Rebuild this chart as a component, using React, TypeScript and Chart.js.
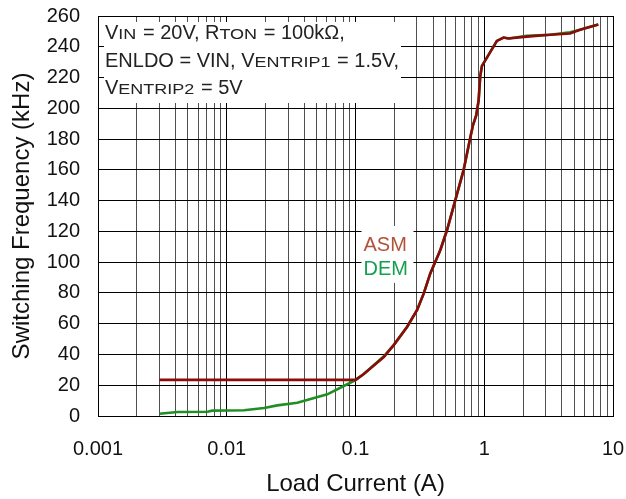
import React, { useEffect, useRef } from 'react';
import { Chart, registerables } from 'chart.js';

Chart.register(...registerables);

const FONT = '"Liberation Sans", Arial, Helvetica, sans-serif';

// X axis decades (log scale) and labels
const xDecades = [0.001, 0.01, 0.1, 1, 10];
const xDecadeLabels = ['0.001', '0.01', '0.1', '1', '10'];
const minorMultipliers = [1, 2, 3, 4, 5, 6, 7, 8, 9];

// Y axis
const yMin = 0;
const yMax = 260;
const yStep = 20;

// DEM series
const demCurrent = [
  0.003, 0.00415, 0.0071, 0.0077, 0.0136, 0.0195, 0.0247, 0.0353, 0.0448, 0.0604, 0.0811,
  0.1, 0.116, 0.166, 0.198, 0.252, 0.301, 0.339, 0.381, 0.456, 0.514, 0.596, 0.691, 0.775,
  0.817, 0.867, 0.904, 0.931, 0.96, 1.254, 1.413, 1.545, 2.144, 3.25, 4.64, 5.54, 7.69,
];
const demFreq = [
  1.5, 2.6, 2.8, 3.5, 3.7, 5.2, 6.9, 8.6, 11.1, 14.1, 19.5,
  23.3, 27.3, 38.8, 46.1, 58, 68.9, 79.7, 92.7, 107.9, 120.9, 140.3, 159.8, 180,
  189, 195.6, 205, 221, 227.6, 243.8, 246, 245.4, 247.2, 247.8, 249.4, 251, 254.5,
];

// ASM series
const asmCurrent = [
  0.003, 0.01, 0.03, 0.1, 0.116, 0.166, 0.198, 0.252, 0.301, 0.339, 0.381, 0.456, 0.514,
  0.596, 0.691, 0.775, 0.817, 0.867, 0.904, 0.931, 0.96, 1.254, 1.413, 1.545, 2.144, 3.25,
  4.64, 5.54, 7.69,
];
const asmFreq = [
  23.5, 23.5, 23.5, 23.5, 27.3, 38.3, 46.1, 58, 68.9, 79.7, 92.7, 107.9, 120.9,
  140.3, 159.8, 180, 189, 195.6, 205, 221, 227.6, 243.8, 246, 245.4, 246.6, 247.8,
  248.6, 251, 254.5,
];

const annotationLines = [
  [{ t: 'V' }, { t: 'IN', sub: true }, { t: ' = 20V, R' }, { t: 'TON', sub: true }, { t: ' = 100kΩ,' }],
  [{ t: 'ENLDO = VIN, V' }, { t: 'ENTRIP1', sub: true }, { t: ' = 1.5V,' }],
  [{ t: 'V' }, { t: 'ENTRIP2', sub: true }, { t: ' = 5V' }],
];
const seriesLabels = ['ASM', 'DEM'];

const isDecade = (v: number) => {
  if (!(v > 0)) return false;
  const l = Math.log10(v);
  return Math.abs(l - Math.round(l)) < 1e-6;
};

const labelFor = (v: number) => {
  for (let i = 0; i < xDecades.length; i++) {
    if (Math.abs(v - xDecades[i]) / xDecades[i] < 1e-6) return xDecadeLabels[i];
  }
  return '';
};

const xTickValues: number[] = [];
for (let i = 0; i < xDecades.length - 1; i++) {
  for (const m of minorMultipliers) xTickValues.push(+(xDecades[i] * m).toPrecision(6));
}
xTickValues.push(xDecades[xDecades.length - 1]);

const annotationPlugin = {
  id: 'annot',
  beforeDatasetsDraw(chart: any) {
    const ctx = chart.ctx;
    const xs = chart.scales.x;
    const ys = chart.scales.y;
    ctx.save();
    // condition text box
    const left = chart.chartArea.left;
    const top = chart.chartArea.top;
    ctx.fillStyle = '#ffffff';
    ctx.fillRect(left + 6, top + 6, 297, 81);
    ctx.textBaseline = 'alphabetic';
    ctx.textAlign = 'left';
    ctx.fillStyle = '#222222';
    const baselines = [39, 67, 94];
    const subStretch = 1.2;
    annotationLines.forEach((segs, li) => {
      let x = left + 7;
      const by = baselines[li];
      segs.forEach((s: any) => {
        if (s.sub) {
          ctx.font = `15px ${FONT}`;
          const w = ctx.measureText(s.t).width;
          ctx.save();
          ctx.translate(x, by);
          ctx.scale(subStretch, 1);
          ctx.fillText(s.t, 0, 0);
          ctx.restore();
          x += w * subStretch + 1;
        } else {
          ctx.font = `20px ${FONT}`;
          ctx.fillText(s.t, x, by);
          x += ctx.measureText(s.t).width;
        }
      });
    });
    // series label box
    const lx = xs.getPixelForValue(0.1) + 6;
    const bTop = ys.getPixelForValue(123.5);
    const bBot = ys.getPixelForValue(86.5);
    ctx.fillStyle = '#ffffff';
    ctx.fillRect(lx, bTop, 52, bBot - bTop);
    ctx.font = `20px ${FONT}`;
    ctx.fillStyle = '#b0533c';
    ctx.fillText(seriesLabels[0], lx + 2, ys.getPixelForValue(107.3));
    ctx.fillStyle = '#14a050';
    ctx.fillText(seriesLabels[1], lx + 2, ys.getPixelForValue(91.7));
    ctx.restore();
  },
};

export default function App() {
  const ref = useRef<HTMLCanvasElement | null>(null);
  useEffect(() => {
    document.body.style.margin = '0';
    const canvas = ref.current;
    if (!canvas) return;
    const chart = new Chart(canvas, {
      type: 'line',
      data: {
        datasets: [
          {
            label: 'ASM',
            data: asmCurrent.map((x, i) => ({ x, y: asmFreq[i] })),
            borderColor: '#8b0a0a',
            borderWidth: 2.6,
            pointRadius: 0,
            tension: 0,
            fill: false,
            order: 0,
          },
          {
            label: 'DEM',
            data: demCurrent.map((x, i) => ({ x, y: demFreq[i] })),
            borderColor: '#1f8f24',
            borderWidth: 2.6,
            pointRadius: 0,
            tension: 0,
            fill: false,
            order: 1,
          },
        ],
      },
      options: {
        responsive: false,
        animation: false,
        layout: { padding: { top: 16, right: 13, left: 0, bottom: 0 } },
        plugins: { legend: { display: false }, tooltip: { enabled: false } },
        scales: {
          x: {
            type: 'logarithmic',
            min: xDecades[0],
            max: xDecades[xDecades.length - 1],
            afterBuildTicks: (s: any) => {
              s.ticks = xTickValues.map((v) => ({ value: v }));
            },
            ticks: {
              autoSkip: false,
              maxRotation: 0,
              minRotation: 0,
              padding: 21,
              color: '#111',
              font: { family: FONT, size: 20 },
              callback: (v: any) => labelFor(Number(v)),
            },
            grid: {
              color: (c: any) => (c.tick && isDecade(c.tick.value) ? '#000' : '#505050'),
              lineWidth: 1,
              drawTicks: false,
            },
            border: { color: '#000', width: 1 },
            title: {
              display: true,
              text: 'Load Current (A)',
              color: '#111',
              font: { family: FONT, size: 24 },
              padding: { top: 0, bottom: 0 },
            },
            afterFit: (s: any) => {
              s.height = 83;
              s.paddingLeft = 0;
              s.paddingRight = 0;
            },
          },
          y: {
            type: 'linear',
            min: yMin,
            max: yMax,
            ticks: {
              stepSize: yStep,
              padding: 18,
              color: '#111',
              font: { family: FONT, size: 20 },
            },
            grid: { color: '#000', lineWidth: 1, drawTicks: false },
            border: { color: '#000', width: 1 },
            title: {
              display: true,
              text: 'Switching Frequency (kHz)',
              color: '#111',
              font: { family: FONT, size: 24 },
              padding: { top: 8, bottom: 0 },
            },
            afterFit: (s: any) => {
              s.width = 98;
              s.paddingTop = 0;
              s.paddingBottom = 0;
            },
          },
        },
      },
      plugins: [annotationPlugin],
    } as any);
    return () => chart.destroy();
  }, []);
  return (
    <div style={{ width: 626, height: 499, background: '#fff' }}>
      <canvas ref={ref} width={626} height={499} style={{ display: 'block' }} />
    </div>
  );
}
